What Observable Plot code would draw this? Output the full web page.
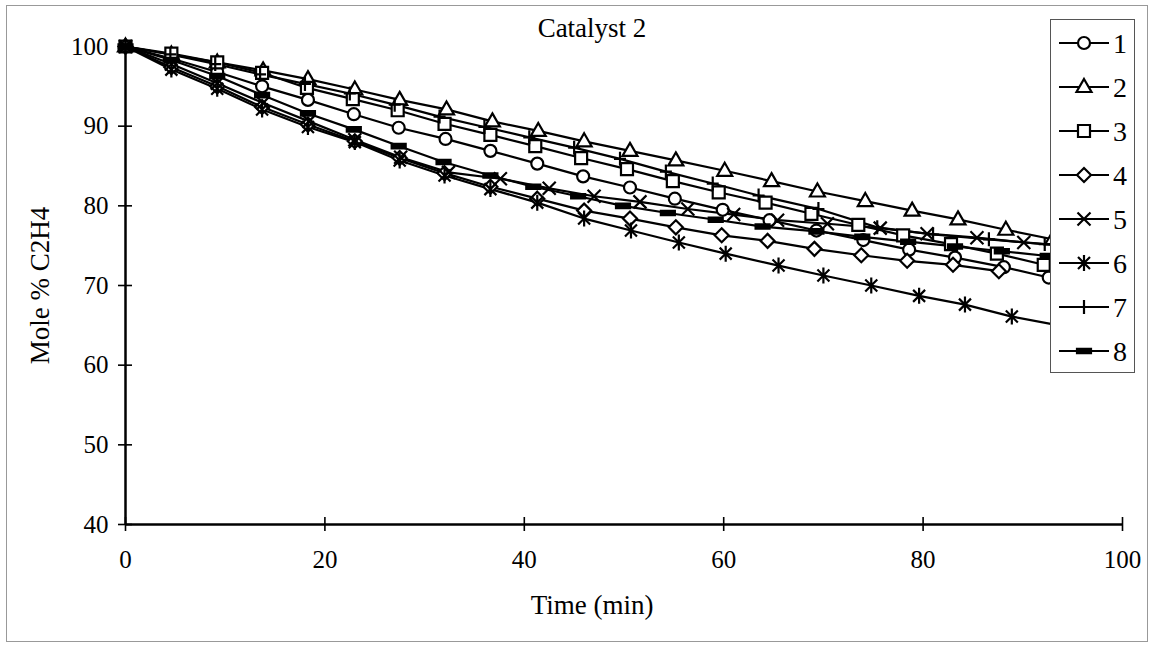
<!DOCTYPE html>
<html><head><meta charset="utf-8">
<script src="https://cdn.jsdelivr.net/npm/d3@7"></script>
<script src="https://cdn.jsdelivr.net/npm/@observablehq/plot@0.6"></script>
<style>
body{margin:0;background:#fff;}
#wrap{position:relative;width:1150px;height:645px;overflow:hidden;background:#fff;font-family:"Liberation Serif","Times New Roman",serif;}
#frame{position:absolute;left:6px;top:5px;width:1140px;height:635px;border:1px solid #999;pointer-events:none;}
#legend{position:absolute;left:1050px;top:19px;}
#chart{position:absolute;left:0;top:0;}
</style></head><body><div id="wrap"><div id="frame"></div><div id="chart"></div></div>
<script>
// ---- data ----
const seriesNames = ["1","2","3","4","5","6","7","8"];
const time1 = [0,4.6,9.2,13.7,18.3,22.9,27.4,32.1,36.6,41.3,45.9,50.6,55.1,59.9,64.6,69.3,74.0,78.6,83.2,88.1,92.6];
const mole1 = [100,98.5,96.8,95.0,93.3,91.5,89.8,88.4,86.9,85.3,83.7,82.3,80.9,79.5,78.2,76.9,75.7,74.5,73.5,72.3,71.0];
const time2 = [0,4.6,9.2,13.8,18.3,23.0,27.5,32.2,36.8,41.4,46.0,50.6,55.2,60.1,64.8,69.4,74.2,78.9,83.5,88.3,93.0];
const mole2 = [100,99.0,98.0,97.0,95.9,94.6,93.3,92.1,90.6,89.4,88.1,86.9,85.7,84.4,83.1,81.8,80.6,79.4,78.3,77.0,75.8];
const time3 = [0,4.6,9.2,13.7,18.2,22.8,27.3,32.0,36.6,41.1,45.7,50.3,54.9,59.5,64.2,68.8,73.5,78.0,82.8,87.4,92.1];
const mole3 = [100,99.1,98.0,96.7,94.8,93.4,92.0,90.3,88.9,87.5,86.0,84.6,83.1,81.7,80.4,79.0,77.6,76.3,75.2,74.0,72.6];
const time4 = [0,4.6,9.2,13.7,18.3,23.0,27.5,32.0,36.6,41.3,46.0,50.6,55.2,59.8,64.4,69.1,73.8,78.4,83.0,87.6];
const mole4 = [100,97.4,95.0,92.4,90.2,88.1,86.0,84.1,82.4,80.9,79.4,78.4,77.3,76.3,75.6,74.6,73.8,73.1,72.6,71.8];
const time5 = [0,4.6,9.2,13.8,18.4,23.0,27.6,32.4,37.6,42.5,47.0,51.6,56.4,61.0,65.4,70.4,75.7,80.4,85.4,90.1,95.0];
const mole5 = [100,97.8,95.4,92.9,90.6,88.3,86.1,84.2,83.4,82.2,81.2,80.5,79.6,78.9,78.2,77.75,77.2,76.5,76.0,75.4,74.9];
const time6 = [0,4.6,9.2,13.7,18.3,23.0,27.5,32.0,36.6,41.3,46.0,50.7,55.5,60.2,65.5,70.0,74.8,79.6,84.2,88.9,93.6];
const mole6 = [100,97.1,94.7,92.1,89.9,88.0,85.7,83.8,82.1,80.4,78.4,76.9,75.4,74.0,72.5,71.25,70.0,68.7,67.6,66.1,65.0];
const time7 = [0,4.5,9.0,13.5,18.0,22.5,27.0,31.5,36.0,40.5,45.0,49.6,54.2,58.9,63.5,69.5,75.4,81.0,86.6,92.2];
const mole7 = [100,99.0,97.8,96.5,95.3,94.1,92.7,91.2,89.9,88.6,87.3,85.9,84.3,82.8,81.3,79.6,77.3,76.4,75.8,75.2];
const time8 = [0,4.6,9.2,13.7,18.3,22.9,27.4,31.9,36.6,40.9,45.4,49.9,54.4,59.2,63.9,69.3,73.9,78.5,83.2,87.9,92.5];
const mole8 = [100,98.3,96.3,93.9,91.6,89.6,87.5,85.5,83.8,82.4,81.2,80.0,79.1,78.25,77.4,76.8,76.1,75.5,74.9,74.3,73.7];
const xTicks = [0,20,40,60,80,100];
const yTicks = [40,50,60,70,80,90,100];
const titleText = "Catalyst 2";
const xLabel = "Time (min)";
const yLabel = "Mole % C2H4";

// ---- marker shapes ----
const shapes = {
  circle:   {draw(c){c.moveTo(6,0);c.arc(0,0,6,0,2*Math.PI);c.closePath();}},
  triangle: {draw(c){c.moveTo(0,-8);c.lineTo(7.5,5);c.lineTo(-7.5,5);c.closePath();}},
  square:   {draw(c){c.moveTo(-6,-6);c.lineTo(6,-6);c.lineTo(6,6);c.lineTo(-6,6);c.closePath();}},
  diamond:  {draw(c){c.moveTo(0,-7);c.lineTo(7,0);c.lineTo(0,7);c.lineTo(-7,0);c.closePath();}},
  times:    {draw(c){c.moveTo(-6.5,-6.5);c.lineTo(6.5,6.5);c.moveTo(6.5,-6.5);c.lineTo(-6.5,6.5);}},
  asterisk: {draw(c){c.moveTo(-6,-6);c.lineTo(6,6);c.moveTo(6,-6);c.lineTo(-6,6);c.moveTo(0,-8);c.lineTo(0,8);}},
  plus:     {draw(c){c.moveTo(0,-7);c.lineTo(0,7);c.moveTo(-6,0);c.lineTo(6,0);}},
  dash:     {draw(c){c.moveTo(-7,-2.2);c.lineTo(7,-2.2);c.lineTo(7,2.2);c.lineTo(-7,2.2);c.closePath();}}
};
const series = [
  {name: seriesNames[0], t: time1, v: mole1, shape: shapes.circle,   fill: "white"},
  {name: seriesNames[1], t: time2, v: mole2, shape: shapes.triangle, fill: "white"},
  {name: seriesNames[2], t: time3, v: mole3, shape: shapes.square,   fill: "white"},
  {name: seriesNames[3], t: time4, v: mole4, shape: shapes.diamond,  fill: "white"},
  {name: seriesNames[4], t: time5, v: mole5, shape: shapes.times,    fill: "none"},
  {name: seriesNames[5], t: time6, v: mole6, shape: shapes.asterisk, fill: "none"},
  {name: seriesNames[6], t: time7, v: mole7, shape: shapes.plus,     fill: "none"},
  {name: seriesNames[7], t: time8, v: mole8, shape: shapes.dash,     fill: "black"}
];
const rows = [];
series.forEach(s => s.t.forEach((t, i) => rows.push({t, v: s.v[i], name: s.name})));

const font = '"Liberation Serif","Times New Roman",serif';
const marks = [
  Plot.line(rows, {x: "t", y: "v", z: "name", stroke: "black", strokeWidth: 2.2}),
  ...series.map(s => Plot.dot(rows.filter(d => d.name === s.name), {
    x: "t", y: "v", symbol: s.shape, fill: s.fill, stroke: "black", strokeWidth: 2.2
  })),
  Plot.ruleX([0], {stroke: "black", strokeWidth: 2.5}),
  Plot.ruleY([40], {stroke: "black", strokeWidth: 2.5}),
  Plot.axisY({ticks: yTicks, tickSize: 14, dx: 7, tickFormat: () => "", strokeWidth: 1.6, label: null}),
  Plot.axisY({ticks: yTicks, tickSize: 0, tickPadding: 17, fontSize: 25, label: null}),
  Plot.axisX({ticks: xTicks, tickSize: 14, dy: -7, tickFormat: () => "", strokeWidth: 1.6, label: null}),
  Plot.axisX({ticks: xTicks, tickSize: 0, tickPadding: 26, fontSize: 25, label: null}),
  Plot.text([titleText], {frameAnchor: "top", dy: -18, dx: -32, lineAnchor: "middle", fontSize: 27}),
  Plot.text([xLabel], {frameAnchor: "bottom", dy: 81, dx: -32, lineAnchor: "middle", fontSize: 27}),
  Plot.text([yLabel], {frameAnchor: "left", dx: -85, rotate: -90, lineAnchor: "middle", textAnchor: "middle", fontSize: 27})
];

const chart = Plot.plot({
  width: 1150, height: 645,
  marginLeft: 125, marginRight: 28, marginTop: 46, marginBottom: 121,
  x: {domain: [0, 100]},
  y: {domain: [40, 100]},
  style: {fontFamily: font, fontSize: "25px", background: "transparent", color: "black", overflow: "visible"},
  marks
});
document.getElementById("chart").appendChild(chart);

// ---- legend overlaid on the right of the plot ----
const lg = d3.select("#wrap").append("svg").attr("id", "legend")
  .attr("width", 88).attr("height", 356).style("font-family", font);
lg.append("rect").attr("x", 0.5).attr("y", 0.5).attr("width", 84).attr("height", 353)
  .attr("fill", "white").attr("stroke", "#555").attr("stroke-width", 1);
series.forEach((s, i) => {
  const g = lg.append("g").attr("transform", `translate(0,${24 + i * 44})`);
  g.append("line").attr("x1", 9).attr("x2", 59).attr("y1", 0).attr("y2", 0)
    .attr("stroke", "black").attr("stroke-width", 2.2);
  g.append("path").attr("transform", "translate(34,0)").attr("d", d3.symbol(s.shape, 64)())
    .attr("fill", s.fill).attr("stroke", "black").attr("stroke-width", 2.2);
  g.append("text").attr("x", 63).attr("dy", "0.35em").attr("font-size", 28).text(s.name);
});
</script></body></html>
